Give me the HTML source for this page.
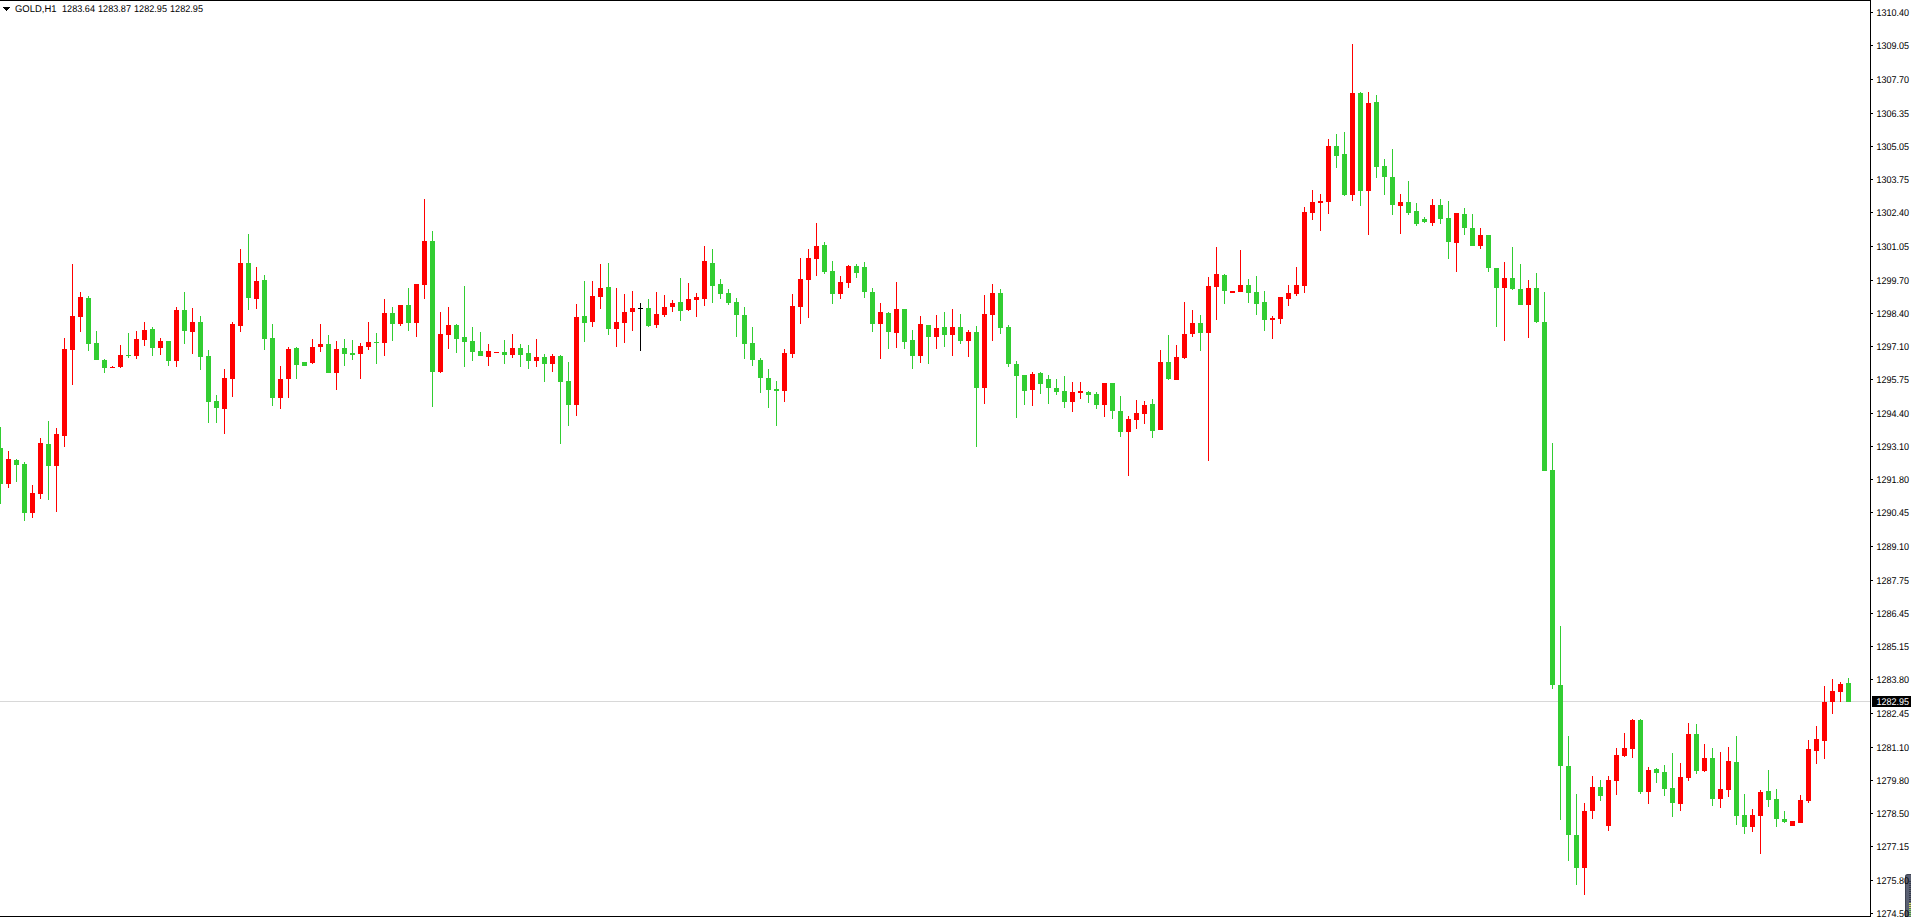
<!DOCTYPE html>
<html><head><meta charset="utf-8"><title>GOLD,H1</title>
<style>
html,body{margin:0;padding:0;background:#fff;overflow:hidden}
body{width:1911px;height:917px;position:relative;font-family:"Liberation Sans",sans-serif}
svg{position:absolute;left:0;top:0;display:block}
text{font-family:"Liberation Sans",sans-serif;font-size:9.8px;fill:#000}
</style></head><body>
<svg width="1911" height="917" viewBox="0 0 1911 917" shape-rendering="crispEdges">
<rect x="0" y="0" width="1911" height="917" fill="#ffffff"/>
<rect x="0" y="701" width="1870" height="1" fill="#D8D8D8"/>
<g fill="#32CD32"><rect x="0" y="427" width="1" height="77"/><rect x="-2" y="448" width="5" height="36"/></g>
<g fill="#FF0000"><rect x="8" y="451" width="1" height="37"/><rect x="6" y="459" width="5" height="25"/></g>
<g fill="#32CD32"><rect x="16" y="459" width="1" height="23"/><rect x="14" y="460" width="5" height="5"/></g>
<g fill="#32CD32"><rect x="24" y="462" width="1" height="59"/><rect x="22" y="464" width="5" height="49"/></g>
<g fill="#FF0000"><rect x="32" y="485" width="1" height="33"/><rect x="30" y="493" width="5" height="20"/></g>
<g fill="#FF0000"><rect x="40" y="438" width="1" height="61"/><rect x="38" y="443" width="5" height="51"/></g>
<g fill="#32CD32"><rect x="48" y="421" width="1" height="79"/><rect x="46" y="444" width="5" height="22"/></g>
<g fill="#FF0000"><rect x="56" y="428" width="1" height="84"/><rect x="54" y="434" width="5" height="32"/></g>
<g fill="#FF0000"><rect x="64" y="338" width="1" height="109"/><rect x="62" y="349" width="5" height="87"/></g>
<g fill="#FF0000"><rect x="72" y="264" width="1" height="121"/><rect x="70" y="316" width="5" height="34"/></g>
<g fill="#FF0000"><rect x="80" y="292" width="1" height="40"/><rect x="78" y="297" width="5" height="20"/></g>
<g fill="#32CD32"><rect x="88" y="296" width="1" height="55"/><rect x="86" y="298" width="5" height="46"/></g>
<g fill="#32CD32"><rect x="96" y="331" width="1" height="29"/><rect x="94" y="343" width="5" height="17"/></g>
<g fill="#32CD32"><rect x="104" y="359" width="1" height="14"/><rect x="102" y="360" width="5" height="8"/></g>
<g fill="#FF0000"><rect x="112" y="366" width="1" height="2"/><rect x="110" y="367" width="5" height="1"/></g>
<g fill="#FF0000"><rect x="120" y="345" width="1" height="23"/><rect x="118" y="355" width="5" height="12"/></g>
<g fill="#32CD32"><rect x="128" y="333" width="1" height="25"/><rect x="126" y="355" width="5" height="1"/></g>
<g fill="#FF0000"><rect x="136" y="331" width="1" height="28"/><rect x="134" y="339" width="5" height="17"/></g>
<g fill="#FF0000"><rect x="144" y="322" width="1" height="24"/><rect x="142" y="330" width="5" height="10"/></g>
<g fill="#32CD32"><rect x="152" y="327" width="1" height="29"/><rect x="150" y="329" width="5" height="19"/></g>
<g fill="#FF0000"><rect x="160" y="338" width="1" height="17"/><rect x="158" y="341" width="5" height="7"/></g>
<g fill="#32CD32"><rect x="168" y="341" width="1" height="25"/><rect x="166" y="341" width="5" height="20"/></g>
<g fill="#FF0000"><rect x="176" y="307" width="1" height="60"/><rect x="174" y="310" width="5" height="51"/></g>
<g fill="#32CD32"><rect x="184" y="292" width="1" height="52"/><rect x="182" y="310" width="5" height="21"/></g>
<g fill="#FF0000"><rect x="192" y="308" width="1" height="46"/><rect x="190" y="322" width="5" height="10"/></g>
<g fill="#32CD32"><rect x="200" y="316" width="1" height="54"/><rect x="198" y="322" width="5" height="35"/></g>
<g fill="#32CD32"><rect x="208" y="350" width="1" height="73"/><rect x="206" y="356" width="5" height="46"/></g>
<g fill="#32CD32"><rect x="216" y="395" width="1" height="28"/><rect x="214" y="401" width="5" height="7"/></g>
<g fill="#FF0000"><rect x="224" y="369" width="1" height="65"/><rect x="222" y="378" width="5" height="31"/></g>
<g fill="#FF0000"><rect x="232" y="322" width="1" height="75"/><rect x="230" y="324" width="5" height="55"/></g>
<g fill="#FF0000"><rect x="240" y="249" width="1" height="83"/><rect x="238" y="263" width="5" height="63"/></g>
<g fill="#32CD32"><rect x="248" y="234" width="1" height="76"/><rect x="246" y="263" width="5" height="35"/></g>
<g fill="#FF0000"><rect x="256" y="267" width="1" height="42"/><rect x="254" y="281" width="5" height="18"/></g>
<g fill="#32CD32"><rect x="264" y="275" width="1" height="75"/><rect x="262" y="280" width="5" height="59"/></g>
<g fill="#32CD32"><rect x="272" y="324" width="1" height="82"/><rect x="270" y="338" width="5" height="60"/></g>
<g fill="#FF0000"><rect x="280" y="366" width="1" height="43"/><rect x="278" y="379" width="5" height="19"/></g>
<g fill="#FF0000"><rect x="288" y="347" width="1" height="51"/><rect x="286" y="349" width="5" height="30"/></g>
<g fill="#32CD32"><rect x="296" y="347" width="1" height="32"/><rect x="294" y="348" width="5" height="17"/></g>
<g fill="#32CD32"><rect x="304" y="362" width="1" height="4"/><rect x="302" y="362" width="5" height="4"/></g>
<g fill="#FF0000"><rect x="312" y="339" width="1" height="25"/><rect x="310" y="347" width="5" height="16"/></g>
<g fill="#FF0000"><rect x="320" y="324" width="1" height="28"/><rect x="318" y="344" width="5" height="3"/></g>
<g fill="#32CD32"><rect x="328" y="335" width="1" height="38"/><rect x="326" y="344" width="5" height="29"/></g>
<g fill="#FF0000"><rect x="336" y="341" width="1" height="49"/><rect x="334" y="349" width="5" height="24"/></g>
<g fill="#32CD32"><rect x="344" y="339" width="1" height="27"/><rect x="342" y="348" width="5" height="6"/></g>
<g fill="#32CD32"><rect x="352" y="340" width="1" height="20"/><rect x="350" y="353" width="5" height="2"/></g>
<g fill="#FF0000"><rect x="360" y="343" width="1" height="36"/><rect x="358" y="346" width="5" height="8"/></g>
<g fill="#FF0000"><rect x="368" y="322" width="1" height="28"/><rect x="366" y="342" width="5" height="5"/></g>
<g fill="#32CD32"><rect x="376" y="333" width="1" height="31"/><rect x="374" y="342" width="5" height="1"/></g>
<g fill="#FF0000"><rect x="384" y="299" width="1" height="57"/><rect x="382" y="313" width="5" height="30"/></g>
<g fill="#32CD32"><rect x="392" y="307" width="1" height="34"/><rect x="390" y="313" width="5" height="11"/></g>
<g fill="#FF0000"><rect x="400" y="305" width="1" height="21"/><rect x="398" y="305" width="5" height="19"/></g>
<g fill="#32CD32"><rect x="408" y="288" width="1" height="43"/><rect x="406" y="305" width="5" height="18"/></g>
<g fill="#FF0000"><rect x="416" y="284" width="1" height="53"/><rect x="414" y="284" width="5" height="39"/></g>
<g fill="#FF0000"><rect x="424" y="199" width="1" height="100"/><rect x="422" y="241" width="5" height="44"/></g>
<g fill="#32CD32"><rect x="432" y="231" width="1" height="176"/><rect x="430" y="241" width="5" height="131"/></g>
<g fill="#FF0000"><rect x="440" y="312" width="1" height="61"/><rect x="438" y="334" width="5" height="38"/></g>
<g fill="#FF0000"><rect x="448" y="307" width="1" height="42"/><rect x="446" y="325" width="5" height="10"/></g>
<g fill="#32CD32"><rect x="456" y="324" width="1" height="29"/><rect x="454" y="325" width="5" height="14"/></g>
<g fill="#32CD32"><rect x="464" y="286" width="1" height="81"/><rect x="462" y="337" width="5" height="5"/></g>
<g fill="#32CD32"><rect x="472" y="327" width="1" height="34"/><rect x="470" y="341" width="5" height="11"/></g>
<g fill="#32CD32"><rect x="480" y="332" width="1" height="24"/><rect x="478" y="351" width="5" height="5"/></g>
<g fill="#FF0000"><rect x="488" y="344" width="1" height="22"/><rect x="486" y="351" width="5" height="6"/></g>
<g fill="#FF0000"><rect x="496" y="352" width="1" height="1"/><rect x="494" y="352" width="5" height="1"/></g>
<g fill="#32CD32"><rect x="504" y="340" width="1" height="24"/><rect x="502" y="352" width="5" height="3"/></g>
<g fill="#FF0000"><rect x="512" y="334" width="1" height="24"/><rect x="510" y="348" width="5" height="7"/></g>
<g fill="#32CD32"><rect x="520" y="344" width="1" height="23"/><rect x="518" y="348" width="5" height="7"/></g>
<g fill="#32CD32"><rect x="528" y="345" width="1" height="24"/><rect x="526" y="353" width="5" height="8"/></g>
<g fill="#FF0000"><rect x="536" y="339" width="1" height="28"/><rect x="534" y="357" width="5" height="4"/></g>
<g fill="#32CD32"><rect x="544" y="354" width="1" height="28"/><rect x="542" y="357" width="5" height="7"/></g>
<g fill="#FF0000"><rect x="552" y="354" width="1" height="18"/><rect x="550" y="356" width="5" height="8"/></g>
<g fill="#32CD32"><rect x="560" y="355" width="1" height="89"/><rect x="558" y="356" width="5" height="26"/></g>
<g fill="#32CD32"><rect x="568" y="362" width="1" height="64"/><rect x="566" y="381" width="5" height="24"/></g>
<g fill="#FF0000"><rect x="576" y="304" width="1" height="112"/><rect x="574" y="317" width="5" height="88"/></g>
<g fill="#32CD32"><rect x="584" y="281" width="1" height="61"/><rect x="582" y="316" width="5" height="7"/></g>
<g fill="#FF0000"><rect x="592" y="281" width="1" height="46"/><rect x="590" y="296" width="5" height="26"/></g>
<g fill="#FF0000"><rect x="600" y="264" width="1" height="45"/><rect x="598" y="288" width="5" height="9"/></g>
<g fill="#32CD32"><rect x="608" y="263" width="1" height="72"/><rect x="606" y="287" width="5" height="42"/></g>
<g fill="#FF0000"><rect x="616" y="288" width="1" height="59"/><rect x="614" y="322" width="5" height="7"/></g>
<g fill="#FF0000"><rect x="624" y="294" width="1" height="49"/><rect x="622" y="312" width="5" height="11"/></g>
<g fill="#FF0000"><rect x="632" y="291" width="1" height="40"/><rect x="630" y="308" width="5" height="4"/></g>
<g fill="#000000"><rect x="640" y="303" width="1" height="48"/><rect x="638" y="308" width="5" height="1"/></g>
<g fill="#32CD32"><rect x="648" y="299" width="1" height="28"/><rect x="646" y="308" width="5" height="18"/></g>
<g fill="#FF0000"><rect x="656" y="292" width="1" height="36"/><rect x="654" y="314" width="5" height="11"/></g>
<g fill="#FF0000"><rect x="664" y="295" width="1" height="22"/><rect x="662" y="307" width="5" height="8"/></g>
<g fill="#FF0000"><rect x="672" y="300" width="1" height="12"/><rect x="670" y="303" width="5" height="4"/></g>
<g fill="#32CD32"><rect x="680" y="278" width="1" height="43"/><rect x="678" y="302" width="5" height="9"/></g>
<g fill="#FF0000"><rect x="688" y="283" width="1" height="28"/><rect x="686" y="299" width="5" height="11"/></g>
<g fill="#FF0000"><rect x="696" y="293" width="1" height="24"/><rect x="694" y="297" width="5" height="3"/></g>
<g fill="#FF0000"><rect x="704" y="246" width="1" height="60"/><rect x="702" y="261" width="5" height="38"/></g>
<g fill="#32CD32"><rect x="712" y="249" width="1" height="54"/><rect x="710" y="263" width="5" height="23"/></g>
<g fill="#32CD32"><rect x="720" y="279" width="1" height="20"/><rect x="718" y="284" width="5" height="10"/></g>
<g fill="#32CD32"><rect x="728" y="289" width="1" height="16"/><rect x="726" y="293" width="5" height="10"/></g>
<g fill="#32CD32"><rect x="736" y="298" width="1" height="39"/><rect x="734" y="302" width="5" height="13"/></g>
<g fill="#32CD32"><rect x="744" y="307" width="1" height="52"/><rect x="742" y="315" width="5" height="29"/></g>
<g fill="#32CD32"><rect x="752" y="327" width="1" height="39"/><rect x="750" y="343" width="5" height="17"/></g>
<g fill="#32CD32"><rect x="760" y="358" width="1" height="35"/><rect x="758" y="360" width="5" height="18"/></g>
<g fill="#32CD32"><rect x="768" y="369" width="1" height="39"/><rect x="766" y="378" width="5" height="12"/></g>
<g fill="#32CD32"><rect x="776" y="381" width="1" height="45"/><rect x="774" y="389" width="5" height="2"/></g>
<g fill="#FF0000"><rect x="784" y="349" width="1" height="53"/><rect x="782" y="353" width="5" height="38"/></g>
<g fill="#FF0000"><rect x="792" y="294" width="1" height="64"/><rect x="790" y="306" width="5" height="48"/></g>
<g fill="#FF0000"><rect x="800" y="258" width="1" height="66"/><rect x="798" y="279" width="5" height="28"/></g>
<g fill="#FF0000"><rect x="808" y="249" width="1" height="69"/><rect x="806" y="258" width="5" height="22"/></g>
<g fill="#FF0000"><rect x="816" y="223" width="1" height="53"/><rect x="814" y="246" width="5" height="13"/></g>
<g fill="#32CD32"><rect x="824" y="242" width="1" height="32"/><rect x="822" y="245" width="5" height="27"/></g>
<g fill="#32CD32"><rect x="832" y="261" width="1" height="43"/><rect x="830" y="271" width="5" height="23"/></g>
<g fill="#FF0000"><rect x="840" y="276" width="1" height="23"/><rect x="838" y="282" width="5" height="12"/></g>
<g fill="#FF0000"><rect x="848" y="265" width="1" height="23"/><rect x="846" y="266" width="5" height="17"/></g>
<g fill="#32CD32"><rect x="856" y="264" width="1" height="14"/><rect x="854" y="266" width="5" height="7"/></g>
<g fill="#32CD32"><rect x="864" y="262" width="1" height="36"/><rect x="862" y="267" width="5" height="25"/></g>
<g fill="#32CD32"><rect x="872" y="288" width="1" height="44"/><rect x="870" y="292" width="5" height="32"/></g>
<g fill="#FF0000"><rect x="880" y="303" width="1" height="56"/><rect x="878" y="312" width="5" height="12"/></g>
<g fill="#32CD32"><rect x="888" y="312" width="1" height="37"/><rect x="886" y="313" width="5" height="19"/></g>
<g fill="#FF0000"><rect x="896" y="282" width="1" height="66"/><rect x="894" y="309" width="5" height="24"/></g>
<g fill="#32CD32"><rect x="904" y="309" width="1" height="40"/><rect x="902" y="309" width="5" height="33"/></g>
<g fill="#32CD32"><rect x="912" y="330" width="1" height="39"/><rect x="910" y="340" width="5" height="16"/></g>
<g fill="#FF0000"><rect x="920" y="316" width="1" height="47"/><rect x="918" y="324" width="5" height="32"/></g>
<g fill="#32CD32"><rect x="928" y="325" width="1" height="39"/><rect x="926" y="325" width="5" height="12"/></g>
<g fill="#FF0000"><rect x="936" y="315" width="1" height="34"/><rect x="934" y="328" width="5" height="9"/></g>
<g fill="#32CD32"><rect x="944" y="312" width="1" height="35"/><rect x="942" y="327" width="5" height="8"/></g>
<g fill="#FF0000"><rect x="952" y="309" width="1" height="47"/><rect x="950" y="327" width="5" height="8"/></g>
<g fill="#32CD32"><rect x="960" y="314" width="1" height="30"/><rect x="958" y="327" width="5" height="14"/></g>
<g fill="#FF0000"><rect x="968" y="330" width="1" height="27"/><rect x="966" y="332" width="5" height="9"/></g>
<g fill="#32CD32"><rect x="976" y="326" width="1" height="121"/><rect x="974" y="332" width="5" height="56"/></g>
<g fill="#FF0000"><rect x="984" y="295" width="1" height="109"/><rect x="982" y="314" width="5" height="74"/></g>
<g fill="#FF0000"><rect x="992" y="284" width="1" height="57"/><rect x="990" y="293" width="5" height="22"/></g>
<g fill="#32CD32"><rect x="1000" y="289" width="1" height="45"/><rect x="998" y="293" width="5" height="35"/></g>
<g fill="#32CD32"><rect x="1008" y="325" width="1" height="42"/><rect x="1006" y="327" width="5" height="37"/></g>
<g fill="#32CD32"><rect x="1016" y="361" width="1" height="57"/><rect x="1014" y="364" width="5" height="12"/></g>
<g fill="#32CD32"><rect x="1024" y="375" width="1" height="30"/><rect x="1022" y="375" width="5" height="16"/></g>
<g fill="#FF0000"><rect x="1032" y="372" width="1" height="34"/><rect x="1030" y="374" width="5" height="16"/></g>
<g fill="#32CD32"><rect x="1040" y="372" width="1" height="22"/><rect x="1038" y="373" width="5" height="11"/></g>
<g fill="#32CD32"><rect x="1048" y="375" width="1" height="29"/><rect x="1046" y="379" width="5" height="9"/></g>
<g fill="#32CD32"><rect x="1056" y="379" width="1" height="16"/><rect x="1054" y="388" width="5" height="4"/></g>
<g fill="#32CD32"><rect x="1064" y="376" width="1" height="32"/><rect x="1062" y="391" width="5" height="11"/></g>
<g fill="#FF0000"><rect x="1072" y="382" width="1" height="30"/><rect x="1070" y="392" width="5" height="10"/></g>
<g fill="#FF0000"><rect x="1080" y="382" width="1" height="17"/><rect x="1078" y="391" width="5" height="2"/></g>
<g fill="#32CD32"><rect x="1088" y="391" width="1" height="12"/><rect x="1086" y="392" width="5" height="3"/></g>
<g fill="#32CD32"><rect x="1096" y="392" width="1" height="17"/><rect x="1094" y="394" width="5" height="11"/></g>
<g fill="#FF0000"><rect x="1104" y="383" width="1" height="34"/><rect x="1102" y="383" width="5" height="22"/></g>
<g fill="#32CD32"><rect x="1112" y="383" width="1" height="36"/><rect x="1110" y="383" width="5" height="28"/></g>
<g fill="#32CD32"><rect x="1120" y="396" width="1" height="41"/><rect x="1118" y="411" width="5" height="21"/></g>
<g fill="#FF0000"><rect x="1128" y="416" width="1" height="60"/><rect x="1126" y="419" width="5" height="13"/></g>
<g fill="#FF0000"><rect x="1136" y="400" width="1" height="29"/><rect x="1134" y="413" width="5" height="7"/></g>
<g fill="#FF0000"><rect x="1144" y="401" width="1" height="23"/><rect x="1142" y="405" width="5" height="9"/></g>
<g fill="#32CD32"><rect x="1152" y="399" width="1" height="39"/><rect x="1150" y="404" width="5" height="27"/></g>
<g fill="#FF0000"><rect x="1160" y="350" width="1" height="80"/><rect x="1158" y="362" width="5" height="68"/></g>
<g fill="#32CD32"><rect x="1168" y="335" width="1" height="45"/><rect x="1166" y="362" width="5" height="17"/></g>
<g fill="#FF0000"><rect x="1176" y="345" width="1" height="35"/><rect x="1174" y="357" width="5" height="23"/></g>
<g fill="#FF0000"><rect x="1184" y="302" width="1" height="57"/><rect x="1182" y="334" width="5" height="24"/></g>
<g fill="#FF0000"><rect x="1192" y="310" width="1" height="27"/><rect x="1190" y="323" width="5" height="11"/></g>
<g fill="#32CD32"><rect x="1200" y="315" width="1" height="36"/><rect x="1198" y="323" width="5" height="10"/></g>
<g fill="#FF0000"><rect x="1208" y="277" width="1" height="184"/><rect x="1206" y="286" width="5" height="47"/></g>
<g fill="#FF0000"><rect x="1216" y="247" width="1" height="73"/><rect x="1214" y="274" width="5" height="13"/></g>
<g fill="#32CD32"><rect x="1224" y="274" width="1" height="30"/><rect x="1222" y="275" width="5" height="16"/></g>
<g fill="#FF0000"><rect x="1232" y="291" width="1" height="2"/><rect x="1230" y="291" width="5" height="2"/></g>
<g fill="#FF0000"><rect x="1240" y="250" width="1" height="42"/><rect x="1238" y="285" width="5" height="7"/></g>
<g fill="#32CD32"><rect x="1248" y="279" width="1" height="24"/><rect x="1246" y="285" width="5" height="8"/></g>
<g fill="#32CD32"><rect x="1256" y="276" width="1" height="39"/><rect x="1254" y="292" width="5" height="12"/></g>
<g fill="#32CD32"><rect x="1264" y="291" width="1" height="40"/><rect x="1262" y="302" width="5" height="18"/></g>
<g fill="#FF0000"><rect x="1272" y="316" width="1" height="23"/><rect x="1270" y="318" width="5" height="2"/></g>
<g fill="#FF0000"><rect x="1280" y="297" width="1" height="27"/><rect x="1278" y="297" width="5" height="22"/></g>
<g fill="#FF0000"><rect x="1288" y="285" width="1" height="21"/><rect x="1286" y="293" width="5" height="6"/></g>
<g fill="#FF0000"><rect x="1296" y="267" width="1" height="29"/><rect x="1294" y="285" width="5" height="9"/></g>
<g fill="#FF0000"><rect x="1304" y="207" width="1" height="86"/><rect x="1302" y="212" width="5" height="74"/></g>
<g fill="#FF0000"><rect x="1312" y="190" width="1" height="30"/><rect x="1310" y="202" width="5" height="11"/></g>
<g fill="#FF0000"><rect x="1320" y="194" width="1" height="37"/><rect x="1318" y="201" width="5" height="2"/></g>
<g fill="#FF0000"><rect x="1328" y="139" width="1" height="75"/><rect x="1326" y="146" width="5" height="56"/></g>
<g fill="#32CD32"><rect x="1336" y="134" width="1" height="34"/><rect x="1334" y="146" width="5" height="10"/></g>
<g fill="#32CD32"><rect x="1344" y="132" width="1" height="64"/><rect x="1342" y="154" width="5" height="41"/></g>
<g fill="#FF0000"><rect x="1352" y="44" width="1" height="157"/><rect x="1350" y="93" width="5" height="102"/></g>
<g fill="#32CD32"><rect x="1360" y="92" width="1" height="114"/><rect x="1358" y="93" width="5" height="98"/></g>
<g fill="#FF0000"><rect x="1368" y="92" width="1" height="143"/><rect x="1366" y="103" width="5" height="88"/></g>
<g fill="#32CD32"><rect x="1376" y="95" width="1" height="83"/><rect x="1374" y="102" width="5" height="65"/></g>
<g fill="#32CD32"><rect x="1384" y="159" width="1" height="36"/><rect x="1382" y="166" width="5" height="11"/></g>
<g fill="#32CD32"><rect x="1392" y="149" width="1" height="66"/><rect x="1390" y="177" width="5" height="28"/></g>
<g fill="#FF0000"><rect x="1400" y="194" width="1" height="40"/><rect x="1398" y="202" width="5" height="4"/></g>
<g fill="#32CD32"><rect x="1408" y="181" width="1" height="34"/><rect x="1406" y="202" width="5" height="11"/></g>
<g fill="#32CD32"><rect x="1416" y="203" width="1" height="23"/><rect x="1414" y="211" width="5" height="13"/></g>
<g fill="#32CD32"><rect x="1424" y="217" width="1" height="6"/><rect x="1422" y="219" width="5" height="3"/></g>
<g fill="#FF0000"><rect x="1432" y="199" width="1" height="27"/><rect x="1430" y="205" width="5" height="18"/></g>
<g fill="#32CD32"><rect x="1440" y="199" width="1" height="25"/><rect x="1438" y="205" width="5" height="14"/></g>
<g fill="#32CD32"><rect x="1448" y="201" width="1" height="58"/><rect x="1446" y="218" width="5" height="24"/></g>
<g fill="#FF0000"><rect x="1456" y="213" width="1" height="59"/><rect x="1454" y="213" width="5" height="30"/></g>
<g fill="#32CD32"><rect x="1464" y="208" width="1" height="27"/><rect x="1462" y="214" width="5" height="14"/></g>
<g fill="#32CD32"><rect x="1472" y="214" width="1" height="32"/><rect x="1470" y="228" width="5" height="18"/></g>
<g fill="#FF0000"><rect x="1480" y="228" width="1" height="21"/><rect x="1478" y="235" width="5" height="11"/></g>
<g fill="#32CD32"><rect x="1488" y="235" width="1" height="37"/><rect x="1486" y="235" width="5" height="33"/></g>
<g fill="#32CD32"><rect x="1496" y="268" width="1" height="59"/><rect x="1494" y="268" width="5" height="20"/></g>
<g fill="#FF0000"><rect x="1504" y="262" width="1" height="79"/><rect x="1502" y="278" width="5" height="10"/></g>
<g fill="#32CD32"><rect x="1512" y="247" width="1" height="43"/><rect x="1510" y="278" width="5" height="11"/></g>
<g fill="#32CD32"><rect x="1520" y="264" width="1" height="41"/><rect x="1518" y="289" width="5" height="16"/></g>
<g fill="#FF0000"><rect x="1528" y="280" width="1" height="58"/><rect x="1526" y="288" width="5" height="17"/></g>
<g fill="#32CD32"><rect x="1536" y="273" width="1" height="50"/><rect x="1534" y="288" width="5" height="34"/></g>
<g fill="#32CD32"><rect x="1544" y="292" width="1" height="179"/><rect x="1542" y="322" width="5" height="149"/></g>
<g fill="#32CD32"><rect x="1552" y="443" width="1" height="246"/><rect x="1550" y="470" width="5" height="215"/></g>
<g fill="#32CD32"><rect x="1560" y="626" width="1" height="194"/><rect x="1558" y="685" width="5" height="81"/></g>
<g fill="#32CD32"><rect x="1568" y="736" width="1" height="125"/><rect x="1566" y="766" width="5" height="69"/></g>
<g fill="#32CD32"><rect x="1576" y="794" width="1" height="91"/><rect x="1574" y="835" width="5" height="33"/></g>
<g fill="#FF0000"><rect x="1584" y="803" width="1" height="92"/><rect x="1582" y="811" width="5" height="57"/></g>
<g fill="#FF0000"><rect x="1592" y="776" width="1" height="43"/><rect x="1590" y="787" width="5" height="24"/></g>
<g fill="#32CD32"><rect x="1600" y="780" width="1" height="21"/><rect x="1598" y="787" width="5" height="9"/></g>
<g fill="#FF0000"><rect x="1608" y="776" width="1" height="55"/><rect x="1606" y="780" width="5" height="46"/></g>
<g fill="#FF0000"><rect x="1616" y="748" width="1" height="47"/><rect x="1614" y="755" width="5" height="26"/></g>
<g fill="#FF0000"><rect x="1624" y="733" width="1" height="24"/><rect x="1622" y="748" width="5" height="8"/></g>
<g fill="#FF0000"><rect x="1632" y="719" width="1" height="39"/><rect x="1630" y="720" width="5" height="29"/></g>
<g fill="#32CD32"><rect x="1640" y="719" width="1" height="75"/><rect x="1638" y="720" width="5" height="72"/></g>
<g fill="#FF0000"><rect x="1648" y="767" width="1" height="37"/><rect x="1646" y="770" width="5" height="22"/></g>
<g fill="#32CD32"><rect x="1656" y="768" width="1" height="15"/><rect x="1654" y="769" width="5" height="4"/></g>
<g fill="#32CD32"><rect x="1664" y="765" width="1" height="31"/><rect x="1662" y="772" width="5" height="17"/></g>
<g fill="#32CD32"><rect x="1672" y="753" width="1" height="64"/><rect x="1670" y="788" width="5" height="15"/></g>
<g fill="#FF0000"><rect x="1680" y="763" width="1" height="48"/><rect x="1678" y="777" width="5" height="27"/></g>
<g fill="#FF0000"><rect x="1688" y="723" width="1" height="58"/><rect x="1686" y="734" width="5" height="44"/></g>
<g fill="#32CD32"><rect x="1696" y="724" width="1" height="50"/><rect x="1694" y="734" width="5" height="37"/></g>
<g fill="#FF0000"><rect x="1704" y="744" width="1" height="28"/><rect x="1702" y="758" width="5" height="13"/></g>
<g fill="#32CD32"><rect x="1712" y="748" width="1" height="58"/><rect x="1710" y="758" width="5" height="41"/></g>
<g fill="#FF0000"><rect x="1720" y="752" width="1" height="56"/><rect x="1718" y="789" width="5" height="10"/></g>
<g fill="#FF0000"><rect x="1728" y="747" width="1" height="50"/><rect x="1726" y="761" width="5" height="29"/></g>
<g fill="#32CD32"><rect x="1736" y="736" width="1" height="89"/><rect x="1734" y="762" width="5" height="54"/></g>
<g fill="#32CD32"><rect x="1744" y="794" width="1" height="40"/><rect x="1742" y="815" width="5" height="12"/></g>
<g fill="#FF0000"><rect x="1752" y="809" width="1" height="23"/><rect x="1750" y="815" width="5" height="12"/></g>
<g fill="#FF0000"><rect x="1760" y="790" width="1" height="64"/><rect x="1758" y="792" width="5" height="24"/></g>
<g fill="#32CD32"><rect x="1768" y="770" width="1" height="37"/><rect x="1766" y="791" width="5" height="9"/></g>
<g fill="#32CD32"><rect x="1776" y="789" width="1" height="38"/><rect x="1774" y="799" width="5" height="20"/></g>
<g fill="#32CD32"><rect x="1784" y="811" width="1" height="12"/><rect x="1782" y="819" width="5" height="3"/></g>
<g fill="#FF0000"><rect x="1792" y="821" width="1" height="5"/><rect x="1790" y="821" width="5" height="5"/></g>
<g fill="#FF0000"><rect x="1800" y="795" width="1" height="28"/><rect x="1798" y="800" width="5" height="23"/></g>
<g fill="#FF0000"><rect x="1808" y="740" width="1" height="63"/><rect x="1806" y="749" width="5" height="52"/></g>
<g fill="#FF0000"><rect x="1816" y="726" width="1" height="38"/><rect x="1814" y="739" width="5" height="12"/></g>
<g fill="#FF0000"><rect x="1824" y="686" width="1" height="73"/><rect x="1822" y="702" width="5" height="39"/></g>
<g fill="#FF0000"><rect x="1832" y="679" width="1" height="35"/><rect x="1830" y="691" width="5" height="11"/></g>
<g fill="#FF0000"><rect x="1840" y="682" width="1" height="20"/><rect x="1838" y="684" width="5" height="8"/></g>
<g fill="#32CD32"><rect x="1848" y="678" width="1" height="24"/><rect x="1846" y="683" width="5" height="19"/></g>
<g fill="#000"><rect x="0" y="0" width="1871" height="1"/><rect x="0" y="916" width="1871" height="1"/><rect x="1870" y="0" width="1" height="917"/><rect x="1871" y="12" width="2" height="1"/><rect x="1871" y="45" width="2" height="1"/><rect x="1871" y="79" width="2" height="1"/><rect x="1871" y="113" width="2" height="1"/><rect x="1871" y="146" width="2" height="1"/><rect x="1871" y="179" width="2" height="1"/><rect x="1871" y="212" width="2" height="1"/><rect x="1871" y="246" width="2" height="1"/><rect x="1871" y="280" width="2" height="1"/><rect x="1871" y="313" width="2" height="1"/><rect x="1871" y="346" width="2" height="1"/><rect x="1871" y="379" width="2" height="1"/><rect x="1871" y="413" width="2" height="1"/><rect x="1871" y="446" width="2" height="1"/><rect x="1871" y="479" width="2" height="1"/><rect x="1871" y="512" width="2" height="1"/><rect x="1871" y="546" width="2" height="1"/><rect x="1871" y="580" width="2" height="1"/><rect x="1871" y="613" width="2" height="1"/><rect x="1871" y="646" width="2" height="1"/><rect x="1871" y="679" width="2" height="1"/><rect x="1871" y="713" width="2" height="1"/><rect x="1871" y="747" width="2" height="1"/><rect x="1871" y="780" width="2" height="1"/><rect x="1871" y="813" width="2" height="1"/><rect x="1871" y="846" width="2" height="1"/><rect x="1871" y="880" width="2" height="1"/><rect x="1871" y="913" width="2" height="1"/></g>
<rect x="1872" y="696" width="39" height="11" fill="#000"/>
<g shape-rendering="auto"><rect x="1905" y="874" width="10" height="50" rx="2.5" fill="#3E4351"/><rect x="1906" y="875" width="10" height="50" rx="2" fill="#5A6072"/><rect x="1909" y="881" width="2" height="1" fill="#353A47"/><rect x="1909" y="883" width="2" height="1" fill="#353A47"/><rect x="1909" y="885" width="2" height="1" fill="#353A47"/><rect x="1909" y="887" width="2" height="1" fill="#353A47"/><rect x="1909" y="889" width="2" height="1" fill="#353A47"/><rect x="1909" y="891" width="2" height="1" fill="#353A47"/><rect x="1909" y="893" width="2" height="1" fill="#353A47"/><rect x="1909" y="895" width="2" height="1" fill="#353A47"/><rect x="1909" y="897" width="2" height="1" fill="#353A47"/><rect x="1909" y="899" width="2" height="1" fill="#353A47"/><rect x="1909" y="901" width="2" height="1" fill="#353A47"/><rect x="1909" y="903" width="2" height="1" fill="#D9E35A"/><rect x="1909" y="905" width="2" height="1" fill="#D9E35A"/><rect x="1909" y="907" width="2" height="1" fill="#D9E35A"/><rect x="1909" y="909" width="2" height="1" fill="#86DC64"/><rect x="1909" y="911" width="2" height="1" fill="#86DC64"/><rect x="1909" y="913" width="2" height="1" fill="#86DC64"/><rect x="1909" y="915" width="2" height="1" fill="#86DC64"/></g>
<g fill="#000"><rect x="3" y="7" width="7" height="1"/><rect x="4" y="8" width="5" height="1"/><rect x="5" y="9" width="3" height="1"/><rect x="6" y="10" width="1" height="1"/></g>
<g shape-rendering="auto" text-rendering="geometricPrecision"><text x="15" y="12" textLength="41.5" lengthAdjust="spacingAndGlyphs">GOLD,H1</text><text x="62" y="12" textLength="33" lengthAdjust="spacingAndGlyphs">1283.64</text><text x="98" y="12" textLength="33" lengthAdjust="spacingAndGlyphs">1283.87</text><text x="134" y="12" textLength="33" lengthAdjust="spacingAndGlyphs">1282.95</text><text x="170" y="12" textLength="33" lengthAdjust="spacingAndGlyphs">1282.95</text><text x="1876.5" y="16" textLength="32.6" lengthAdjust="spacingAndGlyphs">1310.40</text><text x="1876.5" y="49" textLength="32.6" lengthAdjust="spacingAndGlyphs">1309.05</text><text x="1876.5" y="83" textLength="32.6" lengthAdjust="spacingAndGlyphs">1307.70</text><text x="1876.5" y="117" textLength="32.6" lengthAdjust="spacingAndGlyphs">1306.35</text><text x="1876.5" y="150" textLength="32.6" lengthAdjust="spacingAndGlyphs">1305.05</text><text x="1876.5" y="183" textLength="32.6" lengthAdjust="spacingAndGlyphs">1303.75</text><text x="1876.5" y="216" textLength="32.6" lengthAdjust="spacingAndGlyphs">1302.40</text><text x="1876.5" y="250" textLength="32.6" lengthAdjust="spacingAndGlyphs">1301.05</text><text x="1876.5" y="284" textLength="32.6" lengthAdjust="spacingAndGlyphs">1299.70</text><text x="1876.5" y="317" textLength="32.6" lengthAdjust="spacingAndGlyphs">1298.40</text><text x="1876.5" y="350" textLength="32.6" lengthAdjust="spacingAndGlyphs">1297.10</text><text x="1876.5" y="383" textLength="32.6" lengthAdjust="spacingAndGlyphs">1295.75</text><text x="1876.5" y="417" textLength="32.6" lengthAdjust="spacingAndGlyphs">1294.40</text><text x="1876.5" y="450" textLength="32.6" lengthAdjust="spacingAndGlyphs">1293.10</text><text x="1876.5" y="483" textLength="32.6" lengthAdjust="spacingAndGlyphs">1291.80</text><text x="1876.5" y="516" textLength="32.6" lengthAdjust="spacingAndGlyphs">1290.45</text><text x="1876.5" y="550" textLength="32.6" lengthAdjust="spacingAndGlyphs">1289.10</text><text x="1876.5" y="584" textLength="32.6" lengthAdjust="spacingAndGlyphs">1287.75</text><text x="1876.5" y="617" textLength="32.6" lengthAdjust="spacingAndGlyphs">1286.45</text><text x="1876.5" y="650" textLength="32.6" lengthAdjust="spacingAndGlyphs">1285.15</text><text x="1876.5" y="683" textLength="32.6" lengthAdjust="spacingAndGlyphs">1283.80</text><text x="1876.5" y="717" textLength="32.6" lengthAdjust="spacingAndGlyphs">1282.45</text><text x="1876.5" y="751" textLength="32.6" lengthAdjust="spacingAndGlyphs">1281.10</text><text x="1876.5" y="784" textLength="32.6" lengthAdjust="spacingAndGlyphs">1279.80</text><text x="1876.5" y="817" textLength="32.6" lengthAdjust="spacingAndGlyphs">1278.50</text><text x="1876.5" y="850" textLength="32.6" lengthAdjust="spacingAndGlyphs">1277.15</text><text x="1876.5" y="884" textLength="32.6" lengthAdjust="spacingAndGlyphs">1275.80</text><text x="1876.5" y="917" textLength="32.6" lengthAdjust="spacingAndGlyphs">1274.50</text><text x="1876.5" y="705" textLength="32.6" lengthAdjust="spacingAndGlyphs" style="fill:#fff">1282.95</text></g>
</svg></body></html>
